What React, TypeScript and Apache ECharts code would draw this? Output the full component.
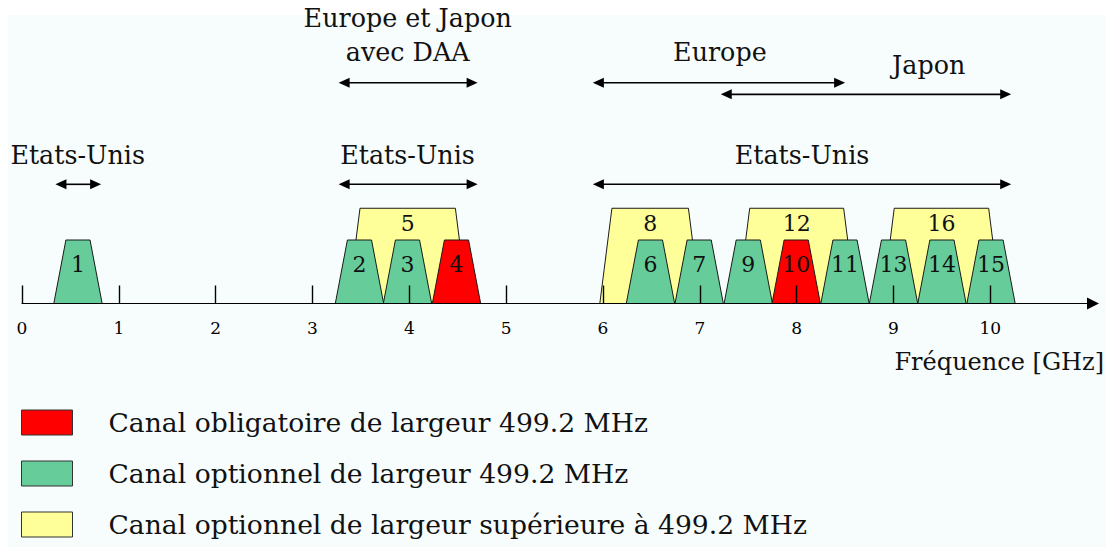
import React, { useEffect, useRef } from 'react';
import * as echarts from 'echarts';

const FONT = 'DejaVu Serif';

// axis
const TICK_VALUES = [0, 1, 2, 3, 4, 5, 6, 7, 8, 9, 10];
const X_MAX = 11.06;
const AXIS_TITLE = 'Fréquence [GHz]';

// channels (GHz)
const GREEN_NAMES = ['1', '2', '3', '6', '7', '9', '11', '13', '14', '15'];
const GREEN_CENTERS = [0.578, 3.485, 3.981, 6.49, 6.993, 7.5, 8.499, 9.0, 9.5, 10.007];
const RED_NAMES = ['4', '10'];
const RED_CENTERS = [4.487, 7.995];
const YELLOW_NAMES = ['5', '8', '12', '16'];
const YELLOW_CENTERS = [3.983, 6.487, 8.0, 9.495];
const YELLOW_WIDTHS = [1.235, 1.04, 1.22, 1.225];
const NARROW_WIDTH = 0.4992;
const NARROW_HEIGHT = 1;
const WIDE_HEIGHT = 1.5;
const SHOULDER = 0.125;

// regulatory bands (arrows)
const BAND_FROM = [0.345, 3.27, 5.895, 3.27, 5.895, 7.216];
const BAND_TO = [0.817, 4.705, 10.215, 4.705, 8.5, 10.215];
const BAND_LEVEL = [1.877, 1.877, 1.877, 3.477, 3.477, 3.294];

// band labels
const LABEL_TEXT = ['Europe et Japon', 'avec DAA', 'Etats-Unis', 'Etats-Unis', 'Etats-Unis', 'Europe', 'Japon'];
const LABEL_X = [3.983, 3.983, 0.575, 3.981, 8.055, 7.207, 9.363];
const LABEL_LEVEL = [4.496, 3.953, 2.346, 2.346, 2.346, 3.961, 3.756];

const LEGEND_NAMES = [
  'Canal obligatoire de largeur 499.2 MHz',
  'Canal optionnel de largeur 499.2 MHz',
  'Canal optionnel de largeur supérieure à 499.2 MHz',
];
const COLORS = ['#FF0000', '#66CC99', '#FFFF99'];
const LEGEND_TOPS = [409, 460, 511];

const trapRender = (names: string[], fill: string, labelLevel: number) => (params: any, api: any) => {
  const c = api.value(0);
  const w = api.value(1);
  const h = api.value(2);
  const a = api.coord([c - w / 2, 0]);
  const b = api.coord([c - w / 2 + SHOULDER, h]);
  const d = api.coord([c + w / 2 - SHOULDER, h]);
  const e = api.coord([c + w / 2, 0]);
  const t = api.coord([c, labelLevel]);
  return {
    type: 'group',
    children: [
      { type: 'polygon', shape: { points: [a, b, d, e] }, style: { fill, stroke: '#1a1a1a', lineWidth: 1 } },
      {
        type: 'text',
        x: t[0],
        y: t[1],
        style: {
          text: names[params.dataIndex],
          fontSize: 22,
          fontFamily: FONT,
          fill: '#111',
          align: 'center',
          verticalAlign: 'middle',
        },
      },
    ],
  };
};

export default function App() {
  const ref = useRef<HTMLDivElement>(null);
  useEffect(() => {
    if (!ref.current) return;
    const chart = echarts.init(ref.current, undefined, { renderer: 'svg' });
    const option: any = {
      animation: false,
      backgroundColor: '#ffffff',
      textStyle: { fontFamily: FONT },
      grid: { left: 22, top: 49.5, width: 1071, height: 254 },
      xAxis: {
        type: 'value',
        min: 0,
        max: X_MAX,
        z: 10,
        splitLine: { show: false },
        axisLine: {
          show: true,
          onZero: false,
          symbol: ['none', 'triangle'],
          symbolSize: [12, 12],
          lineStyle: { color: '#000', width: 1 },
        },
        axisTick: { show: true, inside: true, length: 18, customValues: TICK_VALUES, lineStyle: { color: '#000', width: 1.4 } },
        axisLabel: {
          customValues: TICK_VALUES,
          fontFamily: FONT,
          fontSize: 17,
          color: '#000',
          margin: 24.5,
          verticalAlign: 'middle',
        },
      },
      yAxis: { type: 'value', min: 0, max: 4, show: false },
      legend: LEGEND_NAMES.map((n, i) => ({
        left: 21,
        top: LEGEND_TOPS[i],
        padding: 0,
        itemWidth: 51,
        itemHeight: 25,
        icon: 'rect',
        selectedMode: false,
        textStyle: { fontFamily: FONT, fontSize: 26.6, color: '#111', padding: [0, 0, 0, 31] },
        data: [{ name: n, itemStyle: { color: COLORS[i], borderColor: '#333', borderWidth: 1 } }],
      })),
      graphic: [
        { type: 'rect', x: 8, y: 15, shape: { width: 1098, height: 532 }, style: { fill: '#F7FDFD' }, z: -100, silent: true },
        {
          type: 'text',
          x: 1104,
          y: 362,
          style: { text: AXIS_TITLE, fontSize: 24, fontFamily: FONT, fill: '#111', align: 'right', verticalAlign: 'middle' },
        },
      ],
      series: [
        {
          name: LEGEND_NAMES[2],
          type: 'custom',
          z: 2,
          itemStyle: { color: COLORS[2], borderColor: '#333', borderWidth: 1 },
          encode: { x: 0, y: 2 },
          data: YELLOW_CENTERS.map((c, i) => [c, YELLOW_WIDTHS[i], WIDE_HEIGHT]),
          renderItem: trapRender(YELLOW_NAMES, COLORS[2], 1.263),
        },
        {
          name: LEGEND_NAMES[1],
          type: 'custom',
          z: 3,
          itemStyle: { color: COLORS[1], borderColor: '#333', borderWidth: 1 },
          encode: { x: 0, y: 2 },
          data: GREEN_CENTERS.map((c) => [c, NARROW_WIDTH, NARROW_HEIGHT]),
          renderItem: trapRender(GREEN_NAMES, COLORS[1], 0.62),
        },
        {
          name: LEGEND_NAMES[0],
          type: 'custom',
          z: 3,
          itemStyle: { color: COLORS[0], borderColor: '#333', borderWidth: 1 },
          encode: { x: 0, y: 2 },
          data: RED_CENTERS.map((c) => [c, NARROW_WIDTH, NARROW_HEIGHT]),
          renderItem: trapRender(RED_NAMES, COLORS[0], 0.62),
        },
        {
          name: 'bands',
          type: 'custom',
          z: 4,
          encode: { x: [0, 1], y: 2 },
          data: BAND_FROM.map((f, i) => [f, BAND_TO[i], BAND_LEVEL[i]]),
          renderItem: (params: any, api: any) => {
            const p1 = api.coord([api.value(0), api.value(2)]);
            const p2 = api.coord([api.value(1), api.value(2)]);
            const L = 11;
            const W = 5;
            return {
              type: 'group',
              children: [
                { type: 'line', shape: { x1: p1[0] + L - 2, y1: p1[1], x2: p2[0] - L + 2, y2: p2[1] }, style: { stroke: '#000', lineWidth: 1.6 } },
                { type: 'polygon', shape: { points: [[p1[0], p1[1]], [p1[0] + L, p1[1] - W], [p1[0] + L, p1[1] + W]] }, style: { fill: '#000' } },
                { type: 'polygon', shape: { points: [[p2[0], p2[1]], [p2[0] - L, p2[1] - W], [p2[0] - L, p2[1] + W]] }, style: { fill: '#000' } },
              ],
            };
          },
        },
        {
          name: 'labels',
          type: 'custom',
          z: 4,
          encode: { x: 0, y: 1 },
          data: LABEL_X.map((x, i) => [x, LABEL_LEVEL[i]]),
          renderItem: (params: any, api: any) => {
            const p = api.coord([api.value(0), api.value(1)]);
            return {
              type: 'text',
              x: p[0],
              y: p[1],
              style: {
                text: LABEL_TEXT[params.dataIndex],
                fontSize: 25.4,
                fontFamily: FONT,
                fill: '#111',
                align: 'center',
                verticalAlign: 'middle',
              },
            };
          },
        },
      ],
    };
    chart.setOption(option);
    return () => chart.dispose();
  }, []);
  return <div ref={ref} style={{ position: 'absolute', left: 0, top: 0, width: 1114, height: 547 }} />;
}
